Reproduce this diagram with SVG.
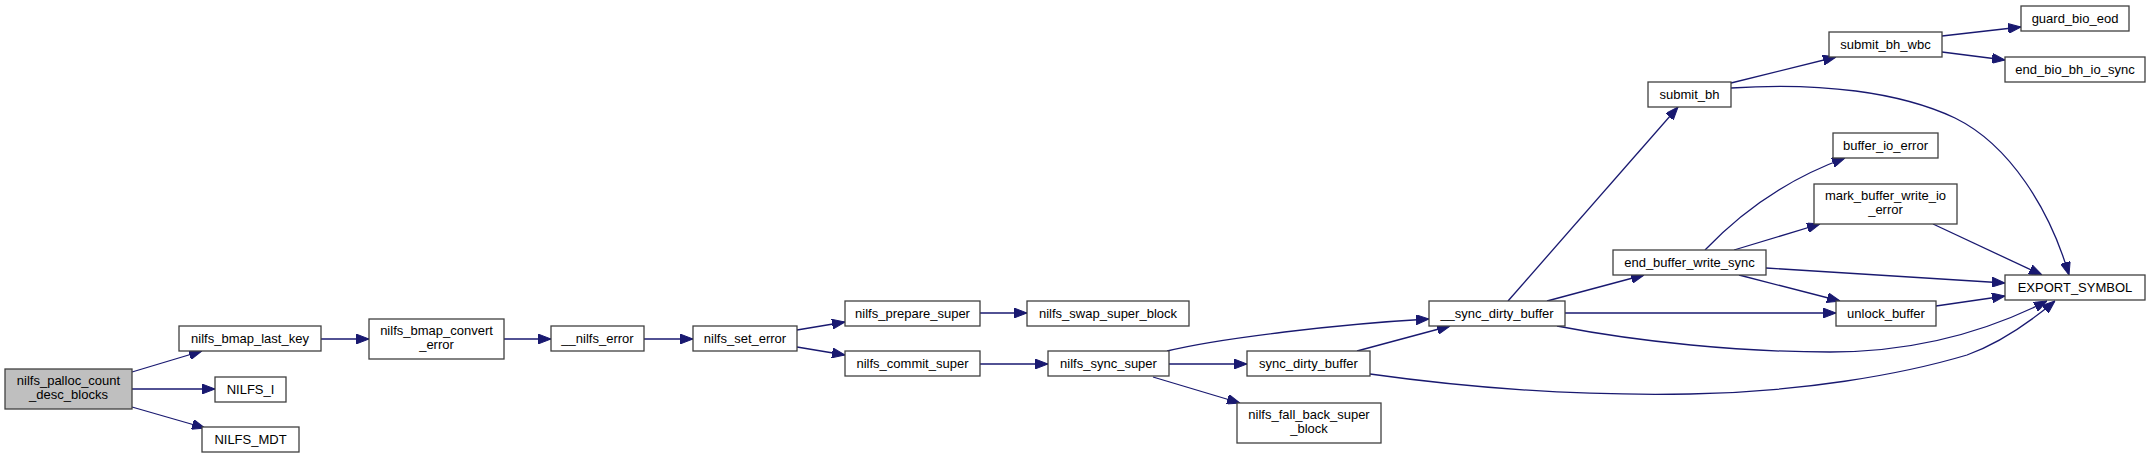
<svg xmlns="http://www.w3.org/2000/svg" width="2151" height="459" viewBox="0 0 2151 459">
<style>
.n rect{fill:#ffffff;stroke:#404040;stroke-width:1.3}
.n text{font-family:"Liberation Sans",Arial,Helvetica,sans-serif;font-size:13px;text-anchor:middle;fill:#000000}
#edges path{fill:none;stroke:#191970;stroke-width:1.3;marker-end:url(#arr)}
</style>
<defs>
<marker id="arr" viewBox="0 0 13 10" refX="13" refY="5" markerWidth="13" markerHeight="10" markerUnits="userSpaceOnUse" orient="auto">
<path d="M0,0 L13,5 L0,10 z" fill="#191970" stroke="#191970" stroke-width="1"/>
</marker>
</defs>
<rect x="0" y="0" width="2151" height="459" fill="#ffffff"/>
<g id="edges">
<path d="M132,372 L202,351"/>
<path d="M132,389 L215,389"/>
<path d="M132,407 L205,428"/>
<path d="M321,339 L369,339"/>
<path d="M504,339 L551,339"/>
<path d="M644,339 L693,339"/>
<path d="M797,330 L845,322"/>
<path d="M797,347 L845,355"/>
<path d="M980,313 L1027,313"/>
<path d="M980,364 L1048,364"/>
<path d="M1167,351 C1220,338 1340,324 1429,319"/>
<path d="M1169,364 L1247,364"/>
<path d="M1153,377 L1240,403"/>
<path d="M1357,351 L1450,326"/>
<path d="M1370,374 C1470,388 1580,396 1690,394 C1800,392 1900,375 1967,355 C2000,343 2030,322 2055,301"/>
<path d="M1508,301 L1678,107"/>
<path d="M1547,301 L1644,275"/>
<path d="M1565,313 L1836,313"/>
<path d="M1557,326 C1640,342 1740,352 1830,352 C1920,352 1990,330 2047,301"/>
<path d="M1705,250 C1745,208 1790,178 1845,158"/>
<path d="M1734,250 L1820,224"/>
<path d="M1766,268 L2005,283"/>
<path d="M1739,275 L1840,301"/>
<path d="M1936,306 L2005,296"/>
<path d="M1933,224 L2042,275"/>
<path d="M1731,88 C1820,82 1900,92 1955,118 C2010,145 2050,210 2069,275"/>
<path d="M1731,83 L1836,57"/>
<path d="M1942,36 L2021,27"/>
<path d="M1942,52 L2005,60"/>
</g>
<g id="n_palloc" class="n"><rect x="5" y="369" width="127" height="40" style="fill:#bfbfbf"/><text x="68.5" y="385">nilfs_palloc_count</text><text x="68.5" y="399">_desc_blocks</text></g>
<g id="n_nilfs_i" class="n"><rect x="215" y="377" width="71" height="25"/><text x="250.5" y="394">NILFS_I</text></g>
<g id="n_nilfs_mdt" class="n"><rect x="202" y="427" width="97" height="25"/><text x="250.5" y="444">NILFS_MDT</text></g>
<g id="n_bmap_last_key" class="n"><rect x="179" y="326" width="142" height="25"/><text x="250" y="343">nilfs_bmap_last_key</text></g>
<g id="n_bmap_convert_error" class="n"><rect x="369" y="319" width="135" height="40"/><text x="436.5" y="335">nilfs_bmap_convert</text><text x="436.5" y="349">_error</text></g>
<g id="n_nilfs_error" class="n"><rect x="551" y="326" width="93" height="25"/><text x="597.5" y="343">__nilfs_error</text></g>
<g id="n_set_error" class="n"><rect x="693" y="326" width="104" height="25"/><text x="745" y="343">nilfs_set_error</text></g>
<g id="n_prepare_super" class="n"><rect x="845" y="301" width="135" height="25"/><text x="912.5" y="318">nilfs_prepare_super</text></g>
<g id="n_swap_super_block" class="n"><rect x="1027" y="301" width="162" height="25"/><text x="1108" y="318">nilfs_swap_super_block</text></g>
<g id="n_commit_super" class="n"><rect x="845" y="351" width="135" height="25"/><text x="912.5" y="368">nilfs_commit_super</text></g>
<g id="n_sync_super" class="n"><rect x="1048" y="351" width="121" height="25"/><text x="1108.5" y="368">nilfs_sync_super</text></g>
<g id="n_sync_dirty_buffer" class="n"><rect x="1247" y="351" width="123" height="25"/><text x="1308.5" y="368">sync_dirty_buffer</text></g>
<g id="n_fall_back" class="n"><rect x="1237" y="403" width="144" height="40"/><text x="1309" y="419">nilfs_fall_back_super</text><text x="1309" y="433">_block</text></g>
<g id="n_sync_dirty_buffer2" class="n"><rect x="1429" y="301" width="136" height="25"/><text x="1497" y="318">__sync_dirty_buffer</text></g>
<g id="n_submit_bh" class="n"><rect x="1648" y="82" width="83" height="25"/><text x="1689.5" y="99">submit_bh</text></g>
<g id="n_submit_bh_wbc" class="n"><rect x="1829" y="32" width="113" height="25"/><text x="1885.5" y="49">submit_bh_wbc</text></g>
<g id="n_guard_bio_eod" class="n"><rect x="2021" y="6" width="108" height="25"/><text x="2075" y="23">guard_bio_eod</text></g>
<g id="n_end_bio" class="n"><rect x="2005" y="57" width="140" height="25"/><text x="2075" y="74">end_bio_bh_io_sync</text></g>
<g id="n_buffer_io_error" class="n"><rect x="1833" y="133" width="105" height="25"/><text x="1885.5" y="150">buffer_io_error</text></g>
<g id="n_mark_buffer" class="n"><rect x="1814" y="184" width="143" height="40"/><text x="1885.5" y="200">mark_buffer_write_io</text><text x="1885.5" y="214">_error</text></g>
<g id="n_end_buffer_write_sync" class="n"><rect x="1613" y="250" width="153" height="25"/><text x="1689.5" y="267">end_buffer_write_sync</text></g>
<g id="n_export_symbol" class="n"><rect x="2005" y="275" width="140" height="25"/><text x="2075" y="292">EXPORT_SYMBOL</text></g>
<g id="n_unlock_buffer" class="n"><rect x="1836" y="301" width="100" height="25"/><text x="1886" y="318">unlock_buffer</text></g>
</svg>
